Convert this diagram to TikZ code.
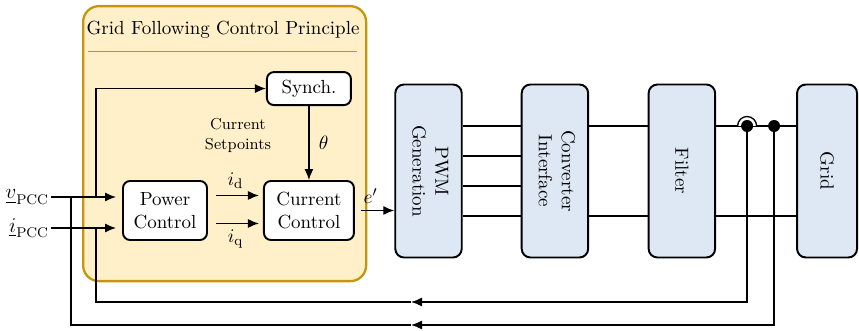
\documentclass[tikz,border=0pt]{standalone}
\usepackage{amsmath}
\usepackage{xcolor}
\usepackage{tikz}
\usetikzlibrary{arrows.meta,positioning}
\definecolor{gflgold}{RGB}{196,150,10}
\definecolor{gflfill}{RGB}{255,240,202}
\definecolor{blkblue}{RGB}{221,232,244}

\begin{document}
\begin{tikzpicture}[
    node distance=1.1cm and 1.1cm,
    font=\fontsize{10.8}{13}\selectfont,
    gflbox/.style={rectangle, rounded corners=9pt, draw=gflgold, line width=1.3pt, fill=gflfill,
                minimum width=5.66cm, minimum height=5.5cm, anchor=north west},
    ctrl/.style={rectangle, rounded corners=4pt, draw=black, line width=1.1pt, fill=white,
                align=center, minimum width=1.68cm, minimum height=1.18cm},
    plant/.style={rectangle, rounded corners=5pt, draw=black, line width=1.1pt, fill=blkblue,
                align=center, minimum width=1.33cm, minimum height=3.46cm},
    wire/.style={line width=0.75pt},
    arr/.style={-{Latex[length=2.2mm,width=1.8mm]}, line width=0.75pt}]
\useasboundingbox (0,0) rectangle (17.18,-6.62);
% control block
\node[gflbox] (gfl) at (1.64,-0.1) {};
\node (title) at (4.46,-0.6) {Grid Following Control Principle};
\draw[gflgold, line width=0.5pt] (1.76,-1.02) -- (7.14,-1.02);
\node[ctrl] (pc) at (3.30,-4.21) {Power\\Control};
\node[ctrl, right=of pc, minimum width=1.8cm] (cc) {Current\\Control};
\node[ctrl, above=1.48cm of cc, minimum height=0.66cm] (synch) {Synch.};
\node[font=\small, align=center] (setp) at (4.76,-2.71) {Current\\Setpoints};
% plant
\node[plant] (pwm) at (8.57,-3.42) {\rotatebox{-90}{\begin{tabular}{c}PWM\\Generation\end{tabular}}};
\node[plant, right=1.16cm of pwm] (conv) {\rotatebox{-90}{\begin{tabular}{c}Converter\\Interface\end{tabular}}};
\node[plant, right=1.17cm of conv] (filt) {\rotatebox{-90}{Filter}};
\node[plant, right=1.6cm of filt, minimum width=1.2cm] (grid) {\rotatebox{-90}{Grid}};
% inputs
\node[anchor=east, inner sep=1pt, font=\large] (vin) at (1.02,-3.94) {$\underline{v}_{\mathrm{PCC}}$};
\node[anchor=east, inner sep=1pt, font=\large] (iin) at (1.02,-4.56) {$\underline{i}_{\mathrm{PCC}}$};
\coordinate (jvs) at (1.92,-3.94);
\coordinate (jvf) at (1.42,-3.94);
\coordinate (jif) at (1.92,-4.56);
\draw[arr, shorten >=0.12cm] (vin.east) -- (vin.east -| pc.west);
\draw[arr, shorten >=0.12cm] (iin.east) -- (iin.east -| pc.west);
\draw[arr] (jvs) |- (synch.west);
% setpoints
\draw[arr, shorten <=0.16cm, shorten >=0.08cm] ([yshift=0.3cm]pc.east) -- node[above] {$i_{\mathrm{d}}$} ([yshift=0.3cm]cc.west);
\draw[arr, shorten <=0.16cm, shorten >=0.08cm] ([yshift=-0.26cm]pc.east) -- node[below] {$i_{\mathrm{q}}$} ([yshift=-0.26cm]cc.west);
\draw[arr] (synch) -- node[right=2pt] {$\theta$} (cc);
\draw[arr, shorten <=0.12cm] (cc.east) -- node[above, pos=0.4] {$e'$} (cc.east -| pwm.west);
% power path
\foreach \dy in {0.9,0.3,-0.3,-0.9}
  \draw[wire] ([yshift=\dy cm]pwm.east) -- ([yshift=\dy cm]conv.west);
\foreach \dy in {0.9,-0.9} {
  \draw[wire] ([yshift=\dy cm]conv.east) -- ([yshift=\dy cm]filt.west);
  \draw[wire] ([yshift=\dy cm]filt.east) -- ([yshift=\dy cm]grid.west);
}
% measurements
\coordinate (fg) at ([yshift=0.9cm]filt.east);
\coordinate (mi) at ([xshift=0.62cm]fg);
\coordinate (mu) at ([xshift=1.16cm]fg);
\coordinate (fbi) at (8.22,-6.04);
\coordinate (fbv) at (8.22,-6.50);
\draw[arr] (mi) |- (fbi);
\draw[wire] (fbi) -| (jif);
\draw[arr] (mu) |- (fbv);
\draw[wire] (fbv) -| (jvf);
\draw[wire, fill=white] ([xshift=-0.19cm]mi) arc (180:0:0.19);
\fill (mi) circle (0.12);
\fill (mu) circle (0.12);
\end{tikzpicture}
\end{document}
